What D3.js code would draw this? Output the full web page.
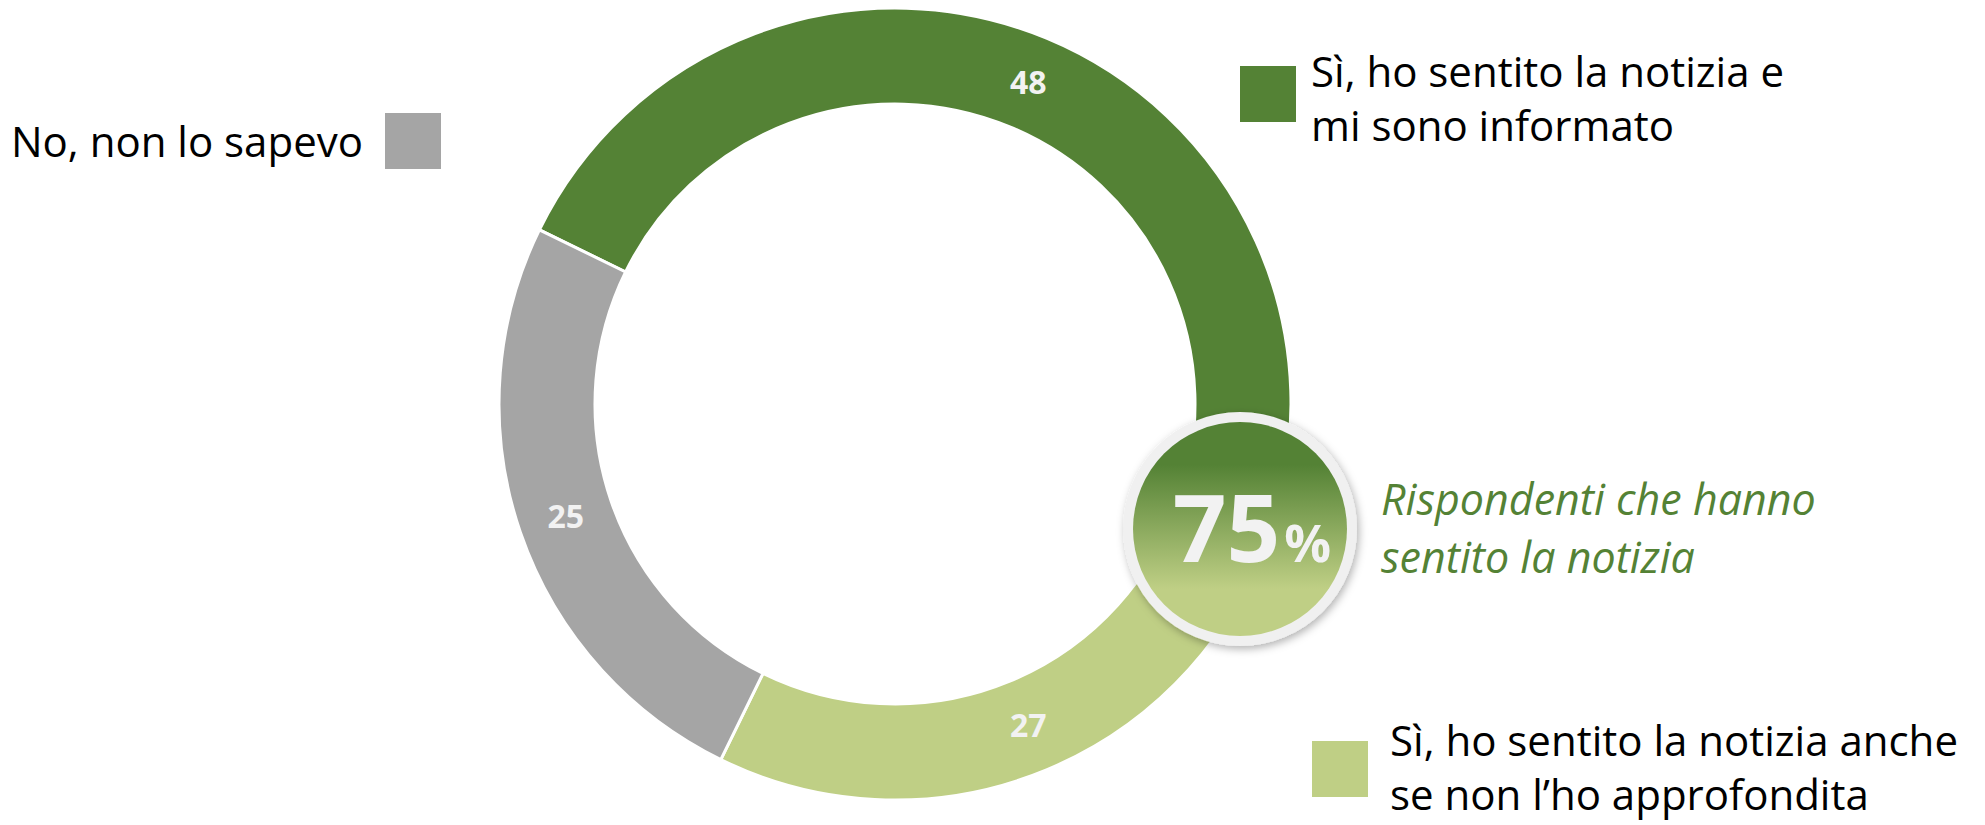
<!DOCTYPE html>
<html>
<head>
<meta charset="utf-8">
<script src="https://cdn.jsdelivr.net/npm/d3@7"></script>
<style>
  body { margin: 0; background: #fff; }
  text { font-family: "Open Sans", "Noto Sans", sans-serif; }
</style>
</head>
<body>
<svg id="chart" width="1985" height="825"></svg>
<script>
// answers, in drawing order (clockwise from the upper left)
var categories = ["informato", "non approfondita", "no"];
var values = [48, 27, 25];
var legendLines = [
  ["Sì, ho sentito la notizia e", "mi sono informato"],
  ["Sì, ho sentito la notizia anche", "se non l’ho approfondita"],
  ["No, non lo sapevo"]
];
var calloutLines = ["Rispondenti che hanno", "sentito la notizia"];

var svg = d3.select("#chart");

var color = d3.scaleOrdinal()
    .domain(categories)
    .range(["#548235", "#bfcf85", "#a5a5a5"]);

var cx = 895, cy = 404;
var outerR = 396, innerR = 300;
var start = -63.9 * Math.PI / 180;

var pie = d3.pie()
    .sort(null)
    .startAngle(start)
    .endAngle(start + 2 * Math.PI);

var arc = d3.arc()
    .innerRadius(innerR)
    .outerRadius(outerR);

var arcs = pie(values);

var donut = svg.append("g")
    .attr("transform", "translate(" + cx + "," + cy + ")");

donut.selectAll("path")
  .data(arcs)
  .enter().append("path")
    .attr("d", arc)
    .attr("fill", function(d, i) { return color(categories[i]); })
    .attr("stroke", "#fff")
    .attr("stroke-width", 3);

donut.selectAll("text")
  .data(arcs)
  .enter().append("text")
    .attr("transform", function(d) { return "translate(" + arc.centroid(d) + ")"; })
    .attr("text-anchor", "middle")
    .attr("dy", "0.36em")
    .attr("fill", "#f2f2f2")
    .style("font-size", "32px")
    .style("font-weight", 700)
    .text(function(d) { return d.data; });

// legend
var legend = [
  {x: 1240, y: 66, tx: 1311, ty: 87, anchor: "start"},
  {x: 1312, y: 741, tx: 1390, ty: 756, anchor: "start"},
  {x: 385, y: 113, tx: 363, ty: 157, anchor: "end"}
];

legend.forEach(function(l, i) {
  svg.append("rect")
    .attr("x", l.x).attr("y", l.y)
    .attr("width", 56).attr("height", 56)
    .attr("fill", color(categories[i]));
  var t = svg.append("text")
    .attr("x", l.tx).attr("y", l.ty)
    .attr("text-anchor", l.anchor)
    .attr("fill", "#000")
    .style("font-size", "42px");
  legendLines[i].forEach(function(line, j) {
    t.append("tspan")
      .attr("x", l.tx)
      .attr("dy", j ? 54 : 0)
      .text(line);
  });
});

// badge with the share who heard the news
var defs = svg.append("defs");
var grad = defs.append("linearGradient")
    .attr("id", "badgeFill")
    .attr("x1", 0).attr("y1", 0).attr("x2", 0).attr("y2", 1);
grad.append("stop").attr("offset", "0.2").attr("stop-color", "#548235");
grad.append("stop").attr("offset", "0.78").attr("stop-color", "#bfcf85");

var shadow = defs.append("filter")
    .attr("id", "badgeShadow")
    .attr("x", "-20%").attr("y", "-20%")
    .attr("width", "140%").attr("height", "140%");
shadow.append("feDropShadow")
    .attr("dx", 2).attr("dy", 3)
    .attr("stdDeviation", 4)
    .attr("flood-color", "#000")
    .attr("flood-opacity", 0.3);

var bx = 1240, by = 529;
svg.append("circle")
    .attr("cx", bx).attr("cy", by).attr("r", 117)
    .attr("fill", "#f0f0f0")
    .attr("filter", "url(#badgeShadow)");
svg.append("circle")
    .attr("cx", bx).attr("cy", by).attr("r", 107)
    .attr("fill", "url(#badgeFill)");

var heard = d3.sum(values.slice(0, 2));
var big = svg.append("text")
    .attr("x", 1252).attr("y", 562)
    .attr("text-anchor", "middle")
    .attr("fill", "#f2f2f2")
    .style("font-weight", 700);
big.append("tspan").style("font-size", "94px").text(heard);
big.append("tspan").style("font-size", "52px").attr("dx", 4).text("%");

var call = svg.append("text")
    .attr("x", 1381).attr("y", 515)
    .attr("fill", "#548235")
    .style("font-size", "43px")
    .style("font-style", "italic");
calloutLines.forEach(function(line, j) {
  call.append("tspan")
    .attr("x", 1381)
    .attr("dy", j ? 58 : 0)
    .text(line);
});
</script>
</body>
</html>
